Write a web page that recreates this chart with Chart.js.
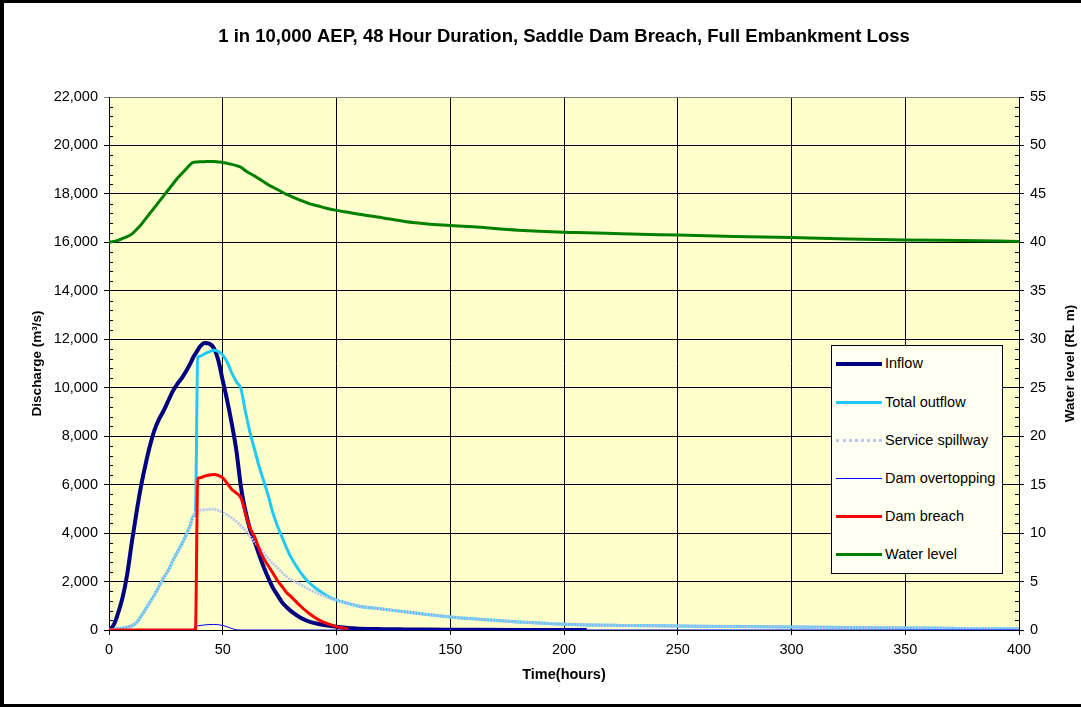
<!DOCTYPE html>
<html>
<head>
<meta charset="utf-8">
<title>Saddle Dam Breach</title>
<script src="https://cdn.jsdelivr.net/npm/chart.js@4/dist/chart.umd.min.js"></script>
<style>
  html, body { margin: 0; padding: 0; background: #fff; }
  #wrap { position: relative; width: 1081px; height: 707px; }
  #chart { display: block; }
  .legend { position: absolute; left: 831px; top: 345px; width: 170px; height: 227px;
    border: 1px solid #000; background: #fffff2; font-family: "Liberation Sans", Arial, sans-serif;
    font-size: 14.5px; color: #000; }
  .legend-row { position: absolute; left: 0; height: 20px; width: 170px; }
  .legend-line { position: absolute; left: 4px; width: 46px; top: 10px; }
  .legend-text { position: absolute; left: 53px; top: 1px; white-space: nowrap; }
</style>
</head>
<body>
<div id="wrap">
  <canvas id="chart" width="1081" height="707"></canvas>
  <div class="legend" id="legend"></div>
</div>
<script>
'use strict';

// time axis (hours), shared by every series
var hours = [0, 2, 4, 6, 8, 10, 12, 14, 16, 18, 20, 22, 24, 26, 28, 30, 32, 34, 36, 37, 38, 39, 40, 42, 44, 46, 48,
  50, 52, 54, 56, 58, 60, 62, 64, 66, 68, 70, 72, 74, 76, 78, 80, 84, 88, 92, 96, 100, 105, 110, 120, 130, 140,
  150, 160, 180, 200, 210, 225, 250, 275, 300, 325, 350, 375, 400];

// discharge (m3/s)
var inflow = [0, 200, 700, 1350, 2300, 3600, 4800, 5900, 6800, 7600, 8250, 8700, 9050, 9450, 9850, 10150, 10400,
  10700, 11050, 11250, 11400, 11550, 11700, 11850, 11820, 11650, 11150, 10300, 9450, 8500, 7400, 5900, 4900, 4150,
  3650, 3100, 2600, 2150, 1750, 1450, 1150, 950, 780, 520, 350, 250, 180, 130, 80, 55, 35, 25, 18, 12, 8, 4, 2, 0,
  null, null, null, null, null, null, null, null];

var totalOutflow = [0, 20, 50, 80, 120, 170, 300, 550, 850, 1150, 1450, 1800, 2150, 2450, 2850, 3200, 3550, 3950,
  4400, 4700, 4850, 11250, 11300, 11400, 11480, 11550, 11500, 11350, 11050, 10600, 10250, 9950, 9000, 8150, 7450,
  6750, 6150, 5550, 4850, 4300, 3850, 3400, 3000, 2400, 1950, 1650, 1400, 1230, 1100, 980, 870, 750, 640, 540,
  460, 330, 240, 210, 190, 165, 140, 125, 105, 85, 65, 50];

var serviceSpillway = [0, 20, 50, 80, 120, 170, 300, 550, 850, 1150, 1450, 1800, 2150, 2450, 2850, 3200, 3550, 3950,
  4400, 4700, 4850, 4920, 4950, 4960, 4980, 4990, 4940, 4850, 4750, 4620, 4480, 4300, 4100, 3850, 3650, 3420, 3200,
  2950, 2750, 2580, 2380, 2200, 2080, 1880, 1680, 1500, 1350, 1230, 1100, 980, 870, 750, 640, 540, 460, 330, 240,
  210, 190, 165, 140, 125, 105, 85, 65, 50];

var damOvertopping = [0, 0, 0, 0, 0, 0, 0, 0, 0, 0, 0, 0, 0, 0, 0, 0, 0, 0, 0, 0, 150, 170, 185, 210, 225, 230, 220,
  190, 130, 60, 10, 0, 0, 0, 0, 0, 0, 0, 0, 0, 0, 0, 0, 0, 0, 0, 0, 0, 0, 0, 0, 0, 0, 0, 0, 0, 0, 0, 0, 0, 0, 0, 0,
  0, 0, 0];

var damBreach = [0, 0, 0, 0, 0, 0, 0, 0, 0, 0, 0, 0, 0, 0, 0, 0, 0, 0, 0, 0, 0, 6250, 6280, 6350, 6400, 6420, 6380,
  6280, 6050, 5800, 5650, 5450, 4800, 4200, 3850, 3350, 2950, 2650, 2350, 2050, 1800, 1550, 1380, 1000, 680, 430,
  260, 140, 50, null, null, null, null, null, null, null, null, null, null, null, null, null, null, null, null, null];

// water level (RL m), secondary axis
var waterLevel = [40.0, 40.1, 40.2, 40.4, 40.6, 40.85, 41.3, 41.8, 42.4, 43.0, 43.6, 44.2, 44.8, 45.4, 46.0, 46.6,
  47.1, 47.6, 48.1, 48.25, 48.3, 48.3, 48.32, 48.33, 48.35, 48.35, 48.3, 48.25, 48.15, 48.05, 47.92, 47.75, 47.4,
  47.1, 46.85, 46.55, 46.25, 45.95, 45.7, 45.45, 45.2, 44.95, 44.75, 44.35, 44.0, 43.75, 43.5, 43.3, 43.1, 42.9,
  42.55, 42.15, 41.9, 41.75, 41.6, 41.25, 41.05, 41.0, 40.9, 40.75, 40.6, 40.5, 40.35, 40.25, 40.18, 40.1];

var xTicks = [0, 50, 100, 150, 200, 250, 300, 350, 400];
var dischargeTicks = [0, 2000, 4000, 6000, 8000, 10000, 12000, 14000, 16000, 18000, 20000, 22000];
var levelTicks = [0, 5, 10, 15, 20, 25, 30, 35, 40, 45, 50, 55];

var FONT = '"Liberation Sans", Arial, sans-serif';
var RIGHT_TITLE = 'Water level (RL m)';

function toPoints(values) {
  var pts = [];
  for (var i = 0; i < hours.length; i++) {
    if (values[i] !== null) pts.push({ x: hours[i], y: values[i] });
  }
  return pts;
}

function fixedTicks(list) {
  return function(scale) {
    scale.ticks = list.map(function(v) { return { value: v }; });
  };
}

// series styling, in Excel drawing order (later ones on top)
var series = [
  { label: 'Inflow', data: inflow, color: '#000080', width: 4, dash: [], axis: 'y' },
  { label: 'Total outflow', data: totalOutflow, color: '#22c8f6', width: 3, dash: [], axis: 'y' },
  { label: 'Service spillway', data: serviceSpillway, color: '#b9c6ef', width: 3, dash: [2, 1], axis: 'y' },
  { label: 'Dam overtopping', data: damOvertopping, color: '#0000ff', width: 1, dash: [], axis: 'y' },
  { label: 'Dam breach', data: damBreach, color: '#ff0000', width: 3, dash: [], axis: 'y' },
  { label: 'Water level', data: waterLevel, color: '#008000', width: 3, dash: [], axis: 'y1' }
];

var datasets = series.map(function(s, i) {
  return {
    label: s.label,
    data: toPoints(s.data),
    borderColor: s.color,
    backgroundColor: s.color,
    borderWidth: s.width,
    borderDash: s.dash,
    pointRadius: 0,
    fill: false,
    cubicInterpolationMode: 'monotone',
    yAxisID: s.axis,
    order: series.length - i
  };
});

// plot background, outer frame, minor tick marks and the right axis title (reads upward like Excel)
var decorPlugin = {
  id: 'decor',
  beforeDraw: function(chart) {
    var ctx = chart.ctx, a = chart.chartArea;
    ctx.save();
    ctx.fillStyle = '#fff';
    ctx.fillRect(0, 0, chart.width, chart.height);
    ctx.fillStyle = '#ffffcc';
    ctx.fillRect(a.left, a.top, a.right - a.left, a.bottom - a.top);
    ctx.restore();
  },
  afterDraw: function(chart) {
    var ctx = chart.ctx, a = chart.chartArea;
    var y = chart.scales.y, y1 = chart.scales.y1;
    ctx.save();
    ctx.strokeStyle = '#000';
    ctx.lineWidth = 1;
    ctx.beginPath();
    var v, p;
    for (v = 0; v <= 22000; v += 400) {
      if (v % 2000 === 0) continue;
      p = Math.round(y.getPixelForValue(v)) + 0.5;
      ctx.moveTo(a.left, p);
      ctx.lineTo(a.left + 4, p);
    }
    for (v = 0; v <= 55; v += 1) {
      if (v % 5 === 0) continue;
      p = Math.round(y1.getPixelForValue(v)) + 0.5;
      ctx.moveTo(a.right - 4, p);
      ctx.lineTo(a.right, p);
    }
    ctx.stroke();

    ctx.translate(1070, (a.top + a.bottom) / 2);
    ctx.rotate(-Math.PI / 2);
    ctx.fillStyle = '#000';
    ctx.font = 'bold 13.5px ' + FONT;
    ctx.textAlign = 'center';
    ctx.textBaseline = 'middle';
    ctx.fillText(RIGHT_TITLE, 0, 0);
    ctx.setTransform(1, 0, 0, 1, 0, 0);

    ctx.fillRect(0, 0, chart.width, 3);
    ctx.fillRect(0, 0, 4, chart.height);
    ctx.fillRect(0, chart.height - 3, chart.width, 3);
    ctx.restore();
  }
};

var tickFont = { family: FONT, size: 14.5 };

var chart = new Chart(document.getElementById('chart'), {
  type: 'line',
  data: { datasets: datasets },
  options: {
    responsive: false,
    animation: false,
    devicePixelRatio: 1,
    layout: { padding: 0 },
    plugins: {
      legend: { display: false },
      tooltip: { enabled: false },
      title: {
        display: true,
        fullSize: false,
        text: '1 in 10,000 AEP, 48 Hour Duration, Saddle Dam Breach, Full Embankment Loss',
        color: '#000',
        font: { family: FONT, size: 18.5, weight: 'bold', lineHeight: 1.2 },
        padding: { top: 26, bottom: 48.8 }
      }
    },
    scales: {
      x: {
        type: 'linear',
        min: 0,
        max: 400,
        afterBuildTicks: fixedTicks(xTicks),
        afterFit: function(scale) { scale.height = 77; },
        ticks: { color: '#000', font: tickFont, padding: 6, maxRotation: 0 },
        grid: { color: '#000', lineWidth: 1, tickLength: 5 },
        border: { display: true, color: '#000' },
        title: {
          display: true, text: 'Time(hours)', color: '#000',
          font: { family: FONT, size: 14.5, weight: 'bold' }, padding: { bottom: 23 }
        }
      },
      y: {
        position: 'left',
        min: 0,
        max: 22000,
        afterBuildTicks: fixedTicks(dischargeTicks),
        afterFit: function(scale) { scale.width = 109; },
        ticks: {
          color: '#000', font: tickFont, padding: 6,
          callback: function(v) { return v.toLocaleString('en-US'); }
        },
        grid: {
          lineWidth: 1, tickLength: 5,
          color: function(c) { return c.tick && c.tick.value === 22000 ? '#808080' : '#000'; }
        },
        border: { display: true, color: '#000' },
        title: {
          display: true, text: 'Discharge (m\u00b3/s)', color: '#000',
          font: { family: FONT, size: 13.5, weight: 'bold' }, padding: { top: 29 }
        }
      },
      y1: {
        position: 'right',
        min: 0,
        max: 55,
        afterBuildTicks: fixedTicks(levelTicks),
        afterFit: function(scale) { scale.width = 62; },
        ticks: { color: '#000', font: tickFont, padding: 6 },
        grid: { drawOnChartArea: false, color: '#000', lineWidth: 1, tickLength: 5 },
        border: { display: true, color: '#000' }
      }
    }
  },
  plugins: [decorPlugin]
});

// legend box drawn over the plot, like the Excel original
function renderLegend() {
  var rowTops = [8, 47, 85, 123, 161, 199];
  var html = '';
  series.forEach(function(s, i) {
    var style = s.dash.length ? 'dotted' : 'solid';
    html += '<div class="legend-row" style="top:' + rowTops[i] + 'px">' +
      '<div class="legend-line" style="border-top:' + s.width + 'px ' + style + ' ' + s.color +
      ';margin-top:' + (-Math.ceil(s.width / 2)) + 'px"></div>' +
      '<div class="legend-text">' + s.label + '</div>' +
    '</div>';
  });
  document.getElementById('legend').innerHTML = html;
}

renderLegend();
</script>
</body>
</html>
